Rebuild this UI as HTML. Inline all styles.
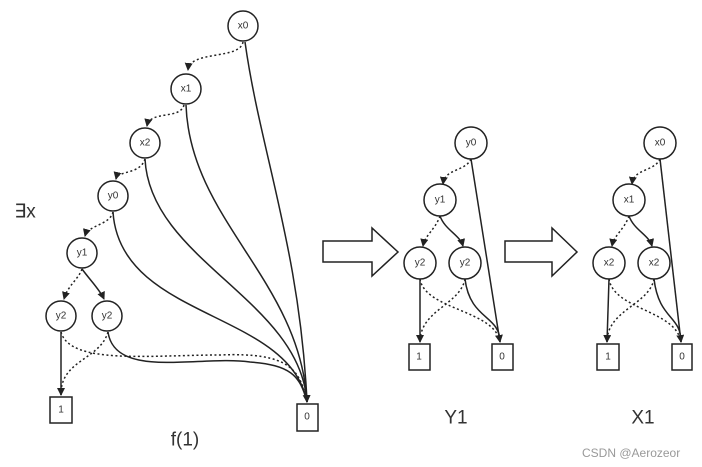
<!DOCTYPE html><html><head><style>body{margin:0;background:#fff}svg{display:block}</style></head><body>
<svg width="702" height="467" viewBox="0 0 702 467" xmlns="http://www.w3.org/2000/svg" font-family="Liberation Sans, DejaVu Sans, sans-serif">
<defs><marker id="a" markerWidth="8" markerHeight="8" refX="7" refY="4" orient="auto" markerUnits="userSpaceOnUse"><path d="M0,0L8,4L0,8z" fill="#222"/></marker></defs>
<g fill="none" stroke="#222" stroke-width="1.5">
<!-- left solid to 0 -->
<path d="M245,42 C260,150 300,250 307,402" marker-end="url(#a)"/>
<path d="M186,105 C190,220 300,280 307,402"/>
<path d="M145,159 C150,260 300,300 307,402"/>
<path d="M113,212 C120,320 290,310 307,402"/>
<path d="M82,269 C90,280 100,290 104,299" marker-end="url(#a)"/>
<path d="M108,332 C115,380 200,355 250,362 C290,365 300,375 307,402"/>
<path d="M61,332 L61,395" marker-end="url(#a)"/>
<!-- middle -->
<path d="M471,159 L500,342" marker-end="url(#a)"/>
<path d="M440,216 C445,230 460,235 463,246" marker-end="url(#a)"/>
<path d="M420,279 L420,342" marker-end="url(#a)"/>
<path d="M465,279 C470,320 500,315 500,342"/>
<!-- right -->
<path d="M660,159 L681,342" marker-end="url(#a)"/>
<path d="M629,216 C634,230 649,235 652,246" marker-end="url(#a)"/>
<path d="M609,279 L607,342" marker-end="url(#a)"/>
<path d="M654,279 C659,320 681,315 681,342"/>
</g>
<g fill="none" stroke="#222" stroke-width="1.5" stroke-dasharray="2,2.5">
<path d="M243,42 C240,60 190,50 188,70" marker-end="url(#a)"/>
<path d="M184,105 C180,120 150,110 147,126" marker-end="url(#a)"/>
<path d="M145,159 C140,175 118,170 116,179" marker-end="url(#a)"/>
<path d="M113,212 C110,225 88,225 85,236" marker-end="url(#a)"/>
<path d="M82,269 C78,280 68,285 64,299" marker-end="url(#a)"/>
<path d="M61,332 C70,365 150,355 220,355 C290,352 300,370 307,402"/>
<path d="M108,332 C100,360 60,360 61,395"/>
<path d="M471,159 C465,172 445,168 443,184" marker-end="url(#a)"/>
<path d="M440,216 C435,230 425,235 423,246" marker-end="url(#a)"/>
<path d="M420,279 C425,310 495,310 500,342"/>
<path d="M465,279 C460,305 420,310 420,342"/>
<path d="M660,159 C654,172 634,168 632,184" marker-end="url(#a)"/>
<path d="M629,216 C624,230 614,235 612,246" marker-end="url(#a)"/>
<path d="M609,279 C614,310 676,310 681,342"/>
<path d="M654,279 C649,305 607,310 607,342"/>
</g>
<g fill="#fff" stroke="#222" stroke-width="1.5">
<circle cx="243" cy="26" r="15"/><circle cx="186" cy="89" r="15"/><circle cx="145" cy="143" r="15"/><circle cx="113" cy="196" r="15"/><circle cx="82" cy="253" r="15"/><circle cx="61" cy="316" r="15"/><circle cx="107" cy="316" r="15"/>
<rect x="50" y="397" width="22" height="26"/><rect x="297" y="404" width="21" height="27"/>
<circle cx="471" cy="143" r="16"/><circle cx="440" cy="200" r="16"/><circle cx="420" cy="263" r="16"/><circle cx="465" cy="263" r="16"/>
<rect x="409" y="344" width="21" height="26"/><rect x="492" y="344" width="21" height="26"/>
<circle cx="660" cy="143" r="16"/><circle cx="629" cy="200" r="16"/><circle cx="609" cy="263" r="16"/><circle cx="654" cy="263" r="16"/>
<rect x="597" y="344" width="22" height="26"/><rect x="672" y="344" width="20" height="26"/>
<path d="M323,241H372V228L398,252L372,276V262H323Z"/>
<path d="M505,241H552V228L577,252L552,276V262H505Z"/>
</g>
<g font-size="10" fill="#333" text-anchor="middle" dominant-baseline="central">
<text x="243" y="26">x0</text><text x="186" y="89">x1</text><text x="145" y="143">x2</text><text x="113" y="196">y0</text><text x="82" y="253">y1</text><text x="61" y="316">y2</text><text x="107" y="316">y2</text>
<text x="61" y="410">1</text><text x="307" y="417">0</text>
<text x="471" y="143">y0</text><text x="440" y="200">y1</text><text x="420" y="263">y2</text><text x="465" y="263">y2</text><text x="419" y="357">1</text><text x="502" y="357">0</text>
<text x="660" y="143">x0</text><text x="629" y="200">x1</text><text x="609" y="263">x2</text><text x="654" y="263">x2</text><text x="608" y="357">1</text><text x="682" y="357">0</text>
</g>
<g font-size="19" fill="#333" text-anchor="middle" dominant-baseline="central">
<text x="185" y="440">f(1)</text><text x="456" y="418">Y1</text><text x="643" y="418">X1</text><text x="25" y="212">∃x</text>
</g>
<text x="582" y="457" font-size="12" fill="#999">CSDN @Aerozeor</text>
</svg></body></html>
